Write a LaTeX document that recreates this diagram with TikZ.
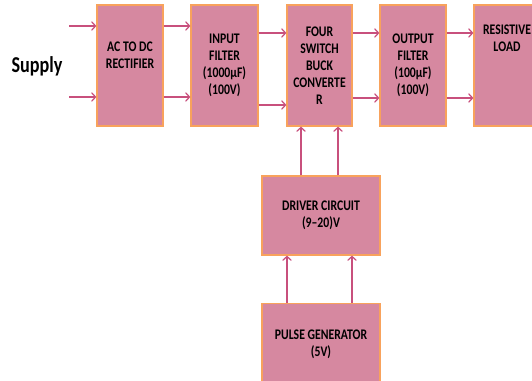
\documentclass[tikz,border=0pt]{standalone}
\usepackage{fontspec}
\setmainfont{Carlito}
\newfontfamily\narrowfont[FakeStretch=0.8]{Carlito}
\usetikzlibrary{arrows.meta}
\definecolor{boxpink}{RGB}{214,136,160}
\definecolor{boxedge}{RGB}{248,162,92}
\definecolor{wirepink}{RGB}{200,80,125}
\begin{document}
\begin{tikzpicture}[x=0.75pt, y=-0.75pt,
    box/.style={draw=boxedge, fill=boxpink, line width=0.9pt, inner sep=0pt,
        minimum height=90.75pt, align=center, font=\narrowfont\bfseries\fontsize{11}{12.8}\selectfont},
    lbl/.style={align=center, inner sep=0pt, font=\narrowfont\bfseries\fontsize{11}{12.8}\selectfont},
    sig/.style={draw=wirepink, line width=0.9pt, -{Straight Barb[length=3pt,width=6.5pt]}}]
    \useasboundingbox (0,0) rectangle (532,381);
    \clip (0,0) rectangle (532,381);
    % main power path
    \node[box, minimum width=49.5pt] (rect) at (130,65.5) {};
    \node[lbl] at (130,55.5) {AC TO DC\\RECTIFIER};
    \node[box, minimum width=50.25pt] (infilt) at (224.5,65.5) {INPUT\\FILTER\\(1000µF)\\(100V)};
    \node[box, minimum width=48.75pt] (conv) at (319.5,65.5) {FOUR\\SWITCH\\BUCK\\CONVERTE\\R};
    \node[box, minimum width=49.5pt] (outfilt) at (413,65.5) {OUTPUT\\FILTER\\(100µF)\\(100V)};
    \node[box, minimum width=49.5pt] (load) at (507,65.5) {};
    \node[lbl] at (507,38) {RESISTIVE\\LOAD};
    % gate drive path
    \node[box, minimum width=88.5pt, minimum height=59.25pt] (driver) at (321,215.5) {DRIVER CIRCUIT\\(9–20)V};
    \node[box, minimum width=88.5pt, minimum height=61pt] (pulse) at (321,344) {PULSE GENERATOR\\(5V)};
    \node[font=\narrowfont\bfseries\fontsize{17}{19}\selectfont] (supply) at (37,66) {Supply};
    \coordinate (s1) at (69,26);
    \coordinate (s2) at (69,97);
    % connectors
    \draw[sig] (s1) -- (rect.west |- s1);
    \draw[sig] (s2) -- (rect.west |- s2);
    \draw[sig] (rect.east |- 0,26) -- (infilt.west |- 0,26);
    \draw[sig] (rect.east |- 0,97) -- (infilt.west |- 0,97);
    \draw[sig] (infilt.east |- 0,33) -- (conv.west |- 0,33);
    \draw[sig] (infilt.east |- 0,105) -- (conv.west |- 0,105);
    \draw[sig] (conv.east |- 0,33) -- (outfilt.west |- 0,33);
    \draw[sig] (conv.east |- 0,98) -- (outfilt.west |- 0,98);
    \draw[sig] (outfilt.east |- 0,33) -- (load.west |- 0,33);
    \draw[sig] (outfilt.east |- 0,98) -- (load.west |- 0,98);
    \draw[sig] (driver.north -| 301,0) -- (conv.south -| 301,0);
    \draw[sig] (driver.north -| 338,0) -- (conv.south -| 338,0);
    \draw[sig] (pulse.north -| 287,0) -- (driver.south -| 287,0);
    \draw[sig] (pulse.north -| 352,0) -- (driver.south -| 352,0);
\end{tikzpicture}
\end{document}
